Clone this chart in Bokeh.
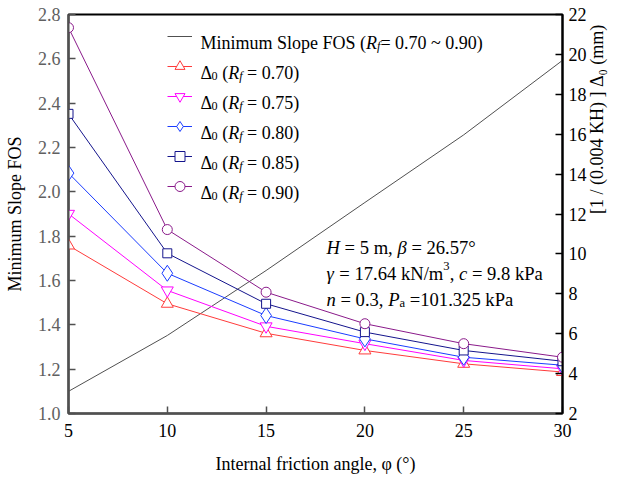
import math
from bokeh.plotting import figure
from bokeh.models import (Range1d, LinearAxis, FixedTicker, Label, Legend,
                          LegendItem, NumeralTickFormatter)
from bokeh.embed import file_html
from bokeh.resources import INLINE

# ---------------- data ----------------
phi = [5, 10, 15, 20, 25, 30]
fos_min = [1.100, 1.352, 1.645, 1.952, 2.257, 2.593]
delta_rf070 = [10.42, 7.50, 6.02, 5.16, 4.49, 4.08]
delta_rf075 = [12.01, 8.17, 6.37, 5.50, 4.66, 4.24]
delta_rf080 = [14.05, 9.03, 6.91, 5.74, 4.82, 4.42]
delta_rf085 = [17.02, 10.03, 7.50, 6.08, 5.16, 4.62]
delta_rf090 = [21.34, 11.22, 8.08, 6.50, 5.50, 4.82]
rf_labels = ["0.70", "0.75", "0.80", "0.85", "0.90"]
x_ticks = [5, 10, 15, 20, 25, 30]
left_ticks = [1.0, 1.2, 1.4, 1.6, 1.8, 2.0, 2.2, 2.4, 2.6, 2.8]
right_ticks = [2, 4, 6, 8, 10, 12, 14, 16, 18, 20, 22]

W, H = 619, 479
FL, FR, FT, FB = 68, 563, 14, 413
FONT = "'Liberation Serif', 'Times New Roman', serif"
FS = 18

p = figure(width=W, height=H, output_backend="svg", toolbar_location=None,
           x_range=Range1d(5, 30), y_range=Range1d(1.0, 2.8),
           min_border_left=FL, min_border_right=W - FR,
           min_border_top=FT, min_border_bottom=H - FB)
p.extra_y_ranges = {"right": Range1d(2, 22)}
p.grid.visible = False
p.outline_line_color = "black"
p.outline_line_width = 2
p.background_fill_color = "white"
p.border_fill_color = "white"

# axes
xa = p.xaxis[0]
xa.ticker = FixedTicker(ticks=x_ticks)
xa.axis_label = "Internal friction angle, \u03c6 (\u00b0)"
ya = p.yaxis[0]
ya.ticker = FixedTicker(ticks=left_ticks)
ya.formatter = NumeralTickFormatter(format="0.0")
ya.axis_label = "Minimum Slope FOS"
ra = LinearAxis(y_range_name="right", ticker=FixedTicker(ticks=right_ticks))
ra.axis_label = "[1 / (0.004 KH) ]  \u0394\u2080  (mm)"
if "axis_label_orientation" in ra.properties():
    ra.axis_label_orientation = math.pi / 2
p.add_layout(ra, "right")

for ax in (xa, ya, ra):
    ax.major_tick_in = 7
    ax.major_tick_out = 0
    ax.minor_tick_in = 0
    ax.minor_tick_out = 0
    ax.axis_line_width = 2
    ax.major_tick_line_width = 1.5
    ax.major_label_text_font = FONT
    ax.major_label_text_font_size = f"{FS}px"
    ax.axis_label_text_font = FONT
    ax.axis_label_text_font_size = f"{FS}px"
    ax.axis_label_text_font_style = "normal"
    ax.axis_label_text_color = "black"
xa.axis_line_color = "#505050"
xa.major_tick_line_color = "#505050"
xa.major_label_text_color = "black"
xa.major_label_standoff = 10
xa.axis_label_standoff = 14
ya.axis_line_color = "#505050"
ya.major_tick_line_color = "#505050"
ya.major_label_text_color = "#606060"
ya.major_label_standoff = 8
ya.axis_label_standoff = 10
ra.axis_line_color = "black"
ra.major_tick_line_color = "black"
ra.major_label_text_color = "black"
ra.major_label_standoff = 6
ra.axis_label_standoff = 7

# FOS curve (left axis)
r_fos = p.line(phi, fos_min, line_color="#505050", line_width=1)

series = [
    (delta_rf070, "#ff3b3b", "triangle", 12),
    (delta_rf075, "#ff00ff", "inverted_triangle", 12),
    (delta_rf080, "#1a3cff", "diamond", 16),
    (delta_rf085, "#14148c", "square", 9),
    (delta_rf090, "#8a1a8a", "circle", 10),
]
items = [LegendItem(label=" ", renderers=[r_fos])]
for vals, col, mk, sz in series:
    rl = p.line(phi, vals, y_range_name="right", line_color=col, line_width=1)
    rs = p.scatter(phi, vals, y_range_name="right", marker=mk, size=sz,
                   line_color=col, fill_color="white", line_width=1)
    items.append(LegendItem(label=" ", renderers=[rl, rs]))

# legend swatches (text drawn as rich runs below)
LEG_X = 167
ROW0 = 36
ROWP = 30
legend = Legend(items=items, location=(LEG_X - FL, (FB - FT) - (ROW0 - 13 - FT) - 176),
                padding=0, margin=0, spacing=4, glyph_width=25, glyph_height=26,
                label_height=26, label_standoff=8, border_line_color=None,
                background_fill_alpha=0, label_text_font_size=f"{FS}px")
p.add_layout(legend)

# ---------------- rich text helper ----------------
REG = {' ': 250, '(': 333, ')': 333, '[': 333, ']': 333, '/': 278, '.': 250,
       ',': 250, '=': 564, '~': 541, '\u00b0': 400, 'A': 722, 'F': 556,
       'H': 722, 'K': 722, 'M': 889, 'N': 722, 'O': 722, 'P': 556, 'S': 556,
       'a': 444, 'e': 444, 'i': 278, 'k': 500, 'l': 278, 'm': 778, 'n': 500,
       'o': 500, 'p': 500, 'u': 500, '\u0394': 612}
ITA = {'R': 611, 'f': 278, 'H': 722, 'n': 500, 'c': 444, 'P': 611,
       '\u03b3': 440, '\u03b2': 500}


def twidth(t, style):
    tab = ITA if style == "italic" else REG
    return sum(tab.get(ch, REG.get(ch, 500)) for ch in t) / 1000.0


def add_runs(x, y, parts, size=FS, color="black"):
    """x, y: absolute canvas px of the baseline start (y from top)."""
    bx, by = x - FL, FB - y          # frame-relative, y up
    adv = 0.0
    for text, style, pos in parts:
        s = size * 0.68 if pos in ("sub", "sup") else size
        shift = -0.22 * size if pos == "sub" else (0.40 * size if pos == "sup" else 0.0)
        stripped = text.lstrip(" ")
        adv += (len(text) - len(stripped)) * 0.25 * s
        if stripped.strip():
            p.add_layout(Label(x=bx + adv, y=by + shift, x_units="screen", y_units="screen",
                               text=stripped, text_font=FONT,
                               text_font_size=f"{s:.1f}px", text_font_style=style,
                               text_color=color, text_baseline="alphabetic",
                               text_align="left"))
        adv += twidth(stripped, style) * s


TX = LEG_X + 25 + 8
add_runs(TX, ROW0 + 6, [("Minimum Slope FOS (", "normal", ""), ("R", "italic", ""),
                        ("f", "italic", "sub"), ("= 0.70 ~ 0.90)", "normal", "")])
for i, rf in enumerate(rf_labels):
    add_runs(TX, ROW0 + ROWP * (i + 1) + 6,
             [("\u0394", "normal", ""), ("0", "normal", "sub"), (" (", "normal", ""),
              ("R", "italic", ""), ("f", "italic", "sub"), (f" = {rf})", "normal", "")])

# parameter block
AX = 326
PS = 18.6
add_runs(AX, 247, [("H", "italic", ""), (" = 5 m, ", "normal", ""), ("\u03b2", "italic", ""),
                   (" = 26.57\u00b0", "normal", "")], size=PS)
add_runs(AX, 273, [("\u03b3", "italic", ""), (" = 17.64 kN/m", "normal", ""), ("3", "normal", "sup"),
                   (", ", "normal", ""), ("c", "italic", ""), (" = 9.8 kPa", "normal", "")], size=PS)
add_runs(AX, 298.5, [("n", "italic", ""), (" = 0.3, ", "normal", ""), ("P", "italic", ""),
                     ("a", "normal", "sub"), (" =101.325 kPa", "normal", "")], size=PS)

open("out.html", "w").write(file_html(p, INLINE))
